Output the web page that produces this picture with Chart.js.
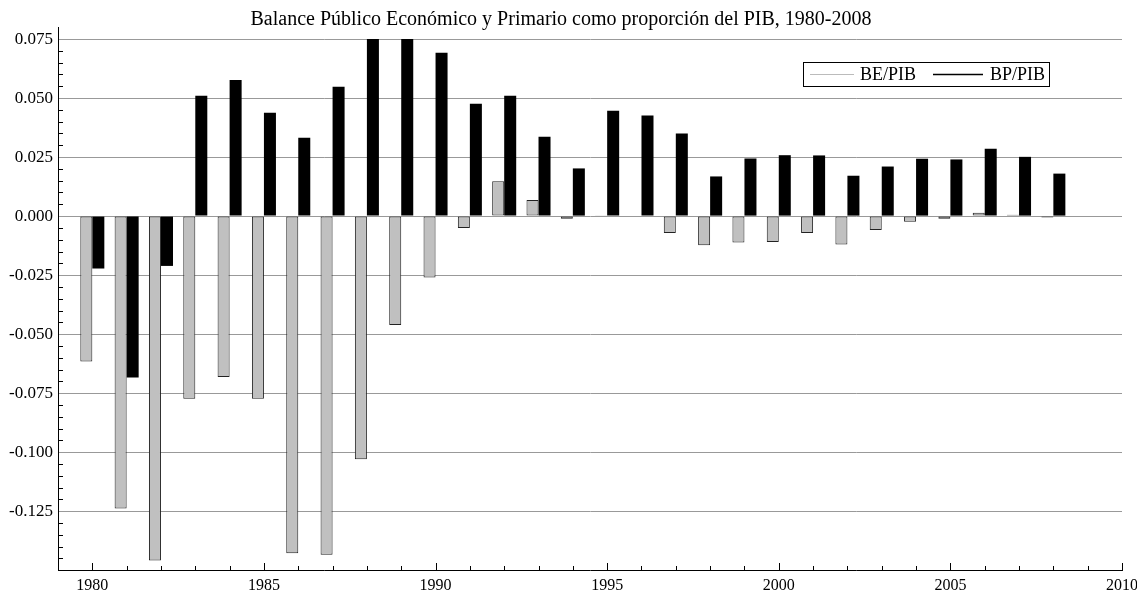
<!DOCTYPE html>
<html>
<head>
<meta charset="utf-8">
<script src="https://cdn.jsdelivr.net/npm/chart.js@4.4.0/dist/chart.umd.min.js"></script>
<style>
html, body { margin: 0; padding: 0; background: #fff; }
#wrap { width: 1137px; height: 592px; }
</style>
</head>
<body>
<div id="wrap"><canvas id="mainChart"></canvas></div>
<script>
const anos = [1980, 1981, 1982, 1983, 1984, 1985, 1986, 1987, 1988, 1989,
    1990, 1991, 1992, 1993, 1994, 1995, 1996, 1997, 1998, 1999,
    2000, 2001, 2002, 2003, 2004, 2005, 2006, 2007, 2008];
const bePib = [-0.0616, -0.1239, -0.1459, -0.0774, -0.0681, -0.0774, -0.1428, -0.1434, -0.1030, -0.0461,
    -0.0260, -0.0050, 0.0148, 0.0068, -0.0011, 0.0002, 0.0003, -0.0072, -0.0123, -0.0112,
    -0.0110, -0.0072, -0.0120, -0.0059, -0.0024, -0.0011, 0.0014, 0.0006, -0.0006];
const bpPib = [-0.0222, -0.0684, -0.0211, 0.0510, 0.0576, 0.0438, 0.0332, 0.0548, 0.0750, 0.0750,
    0.0692, 0.0476, 0.0510, 0.0336, 0.0202, 0.0446, 0.0426, 0.0350, 0.0168, 0.0244,
    0.0258, 0.0257, 0.0171, 0.0210, 0.0243, 0.0240, 0.0285, 0.0251, 0.0180];
const series = ['BE/PIB', 'BP/PIB'];
const xRange = [1979, 2010];
const yRange = [-0.1499, 0.0801];

const serif = 'Liberation Serif, Times New Roman, serif';

// small tick marks inside the axes, plus the boxed legend
const extras = {
    id: 'extras',
    afterDatasetsDraw(chart) {
        const c = chart.ctx;
        const x = chart.scales.x;
        const y = chart.scales.y;
        const a = chart.chartArea;
        c.save();
        c.strokeStyle = '#000';
        c.lineWidth = 1;
        c.beginPath();
        for (let v = xRange[0]; v <= xRange[1]; v++) {
            const px = Math.round(x.getPixelForValue(v)) + 0.5;
            const len = v % 5 === 0 ? 7 : 4;
            c.moveTo(px, a.bottom);
            c.lineTo(px, a.bottom - len);
        }
        const k0 = Math.ceil(yRange[0] / 0.005);
        const k1 = Math.floor(yRange[1] / 0.005);
        for (let k = k0; k <= k1; k++) {
            if (k % 5 === 0) continue;
            const py = Math.round(y.getPixelForValue(k * 0.005)) + 0.5;
            if (py < a.top + 3 || py > a.bottom - 3) continue;
            c.moveTo(a.left, py);
            c.lineTo(a.left + 5, py);
        }
        c.stroke();

        // legend
        const lx = a.right - 319, ly = a.top + 35, lw = 246, lh = 24;
        c.fillStyle = '#fff';
        c.fillRect(lx, ly, lw, lh);
        c.strokeRect(lx + 0.5, ly + 0.5, lw, lh);
        c.font = '18px ' + serif;
        c.textBaseline = 'middle';
        c.fillStyle = '#000';
        const mid = ly + 12.5;
        const lineX = [7, 130], lineW = [44, 50], textX = [57, 187];
        chart.data.datasets.forEach((ds, i) => {
            c.strokeStyle = i === 0 ? '#bbbbbb' : '#000';
            c.lineWidth = i === 0 ? 1 : 1.5;
            c.beginPath();
            c.moveTo(lx + lineX[i], mid);
            c.lineTo(lx + lineX[i] + lineW[i], mid);
            c.stroke();
            c.fillText(ds.label, lx + textX[i], mid + 1);
        });
        c.restore();
    }
};

const ctx = document.getElementById('mainChart').getContext('2d');
const chart = new Chart(ctx, {
    type: 'bar',
    data: {
        datasets: [
            {
                label: series[0],
                data: anos.map((a, i) => ({ x: a, y: bePib[i] })),
                backgroundColor: '#c0c0c0',
                borderColor: '#222',
                borderWidth: 1,
                borderSkipped: false
            },
            {
                label: series[1],
                data: anos.map((a, i) => ({ x: a, y: bpPib[i] })),
                backgroundColor: '#000',
                borderColor: '#000',
                borderWidth: 0
            }
        ]
    },
    options: {
        responsive: true,
        maintainAspectRatio: false,
        animation: false,
        categoryPercentage: 0.7,
        barPercentage: 1.0,
        layout: { padding: { left: 0, right: 15, top: 0, bottom: 0 } },
        scales: {
            x: {
                type: 'linear',
                min: xRange[0],
                max: xRange[1],
                offset: false,
                grid: { display: false, offset: false, drawTicks: false },
                border: { display: true, color: '#000', width: 1 },
                ticks: {
                    stepSize: 5,
                    includeBounds: false,
                    autoSkip: false,
                    maxRotation: 0,
                    padding: 6,
                    color: '#000',
                    font: { family: serif, size: 16 },
                    callback: v => String(v)
                },
                afterFit(scale) {
                    scale.height = 22;
                    scale.paddingLeft = 0;
                    scale.paddingRight = 0;
                }
            },
            y: {
                min: yRange[0],
                max: yRange[1],
                grid: { color: '#999', drawTicks: false },
                border: { display: true, color: '#000', width: 1 },
                ticks: {
                    stepSize: 0.025,
                    includeBounds: false,
                    padding: 5,
                    color: '#000',
                    font: { family: serif, size: 17 },
                    callback: v => (Math.abs(v) < 1e-9 ? 0 : v).toFixed(3)
                },
                afterFit(scale) {
                    scale.width = 58;
                }
            }
        },
        plugins: {
            title: {
                display: true,
                text: 'Balance Público Económico y Primario como proporción del PIB, 1980-2008',
                color: '#000',
                font: { family: serif, size: 20, weight: 'normal', lineHeight: 1 },
                padding: { top: 10, bottom: -3 }
            },
            legend: { display: false },
            tooltip: { enabled: false }
        }
    },
    plugins: [extras]
});
</script>
</body>
</html>
